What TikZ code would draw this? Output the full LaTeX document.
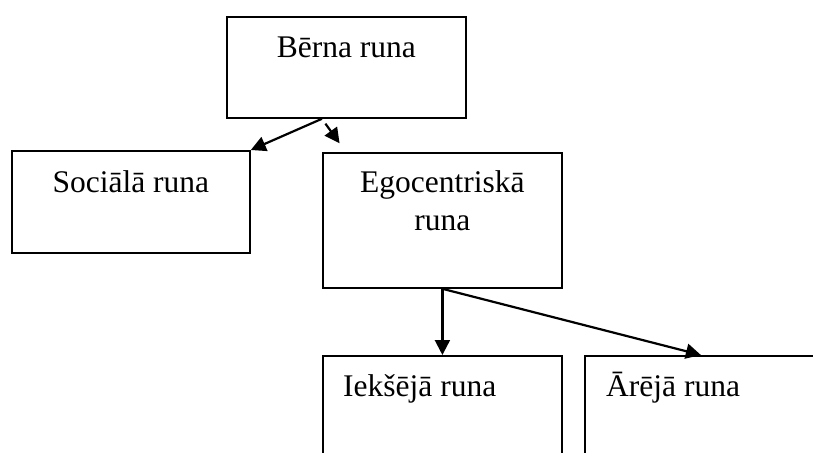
\documentclass[tikz,border=0pt]{standalone}
\usepackage{fontspec}
\setmainfont{Liberation Serif}
\usetikzlibrary{arrows.meta, positioning}

\begin{document}
\begin{tikzpicture}[
        x=1pt, y=-1pt,
        box/.style={rectangle, draw, line width=1.8pt, minimum width=239pt, minimum height=101pt, inner sep=0pt, anchor=north west},
        caption/.style={font=\fontsize{31.5}{37.8}\selectfont, inner sep=0pt},
        line/.style={draw, -{Triangle[length=15pt, width=15pt]}, line width=2.2pt}
    ]
        \useasboundingbox (0,0) rectangle (813,452);
        \clip (0,0) rectangle (813,452);

        \node [box] (berna) at (226,16) {};
        \node [box, minimum width=238pt, minimum height=102pt] (sociala) at (11,150) {};
        \node [box, minimum height=135pt] (ego) at (322,152) {};
        \node [box, minimum height=135pt] (ieksa) at (322,355) {};
        \node [box, minimum height=135pt] (areja) at (584,355) {};

        \node [caption, anchor=base] (bernaT) at ([yshift=-42pt]berna.north) {Bērna runa};
        \node [caption, anchor=base] (socialaT) at ([yshift=-42pt]sociala.north) {Sociālā runa};
        \node [caption, anchor=base, align=center] (egoT) at ([yshift=-78pt]ego.north) {Egocentriskā\\runa};
        \node [caption, anchor=base west] (ieksaT) at ([xshift=21pt, yshift=-41pt]ieksa.north west) {Iekšējā runa};
        \node [caption, anchor=base west] (arejaT) at ([xshift=22pt, yshift=-41pt]areja.north west) {Ārējā runa};

        \path [line] ([xshift=-24.5pt]berna.south) -- (sociala.north east);
        \path [line, shorten <=6pt, shorten >=10.8pt] ([xshift=-24.5pt]berna.south) -- ([xshift=-96.5pt]ego.north);
        \path [line] (ego.south) -- (ieksa.north);
        \path [line] (ego.south) -- ([xshift=-3.5pt]areja.north);
    \end{tikzpicture}
\end{document}
